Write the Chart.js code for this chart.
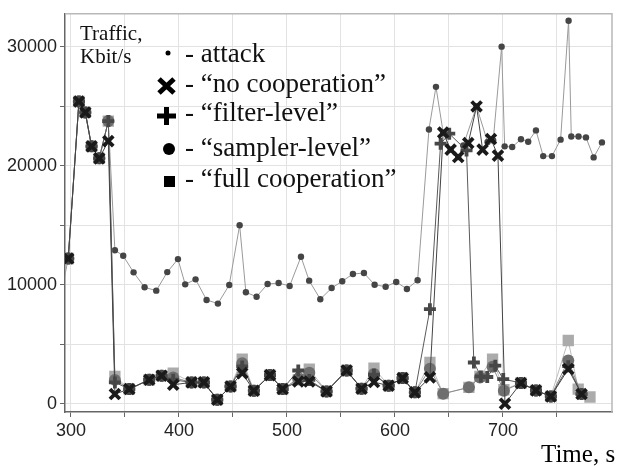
<!DOCTYPE html>
<html>
<head>
<meta charset="utf-8">
<script src="https://cdn.jsdelivr.net/npm/chart.js@4.4.0/dist/chart.umd.min.js"></script>
<style>
  html, body { margin: 0; padding: 0; background: #fff; }
</style>
</head>
<body>
<canvas id="trafficChart" width="630" height="466"></canvas>
<script>
// attack traffic (small dots)
const attackTime = [290, 297.5, 307.4, 313.3, 319.1, 326.2, 334.6, 340.7, 348.4, 358, 368.2, 379, 389.2, 399.1, 405.8, 415.4, 425.6, 436.1, 446.6, 456.2, 462, 471.9, 482.1, 492.3, 502.5, 513, 520.6, 530.9, 541.4, 551.2, 561.1, 571.3, 581.2, 591.4, 601.2, 611.1, 621, 631.5, 638, 644.7, 651.6, 658.6, 663.3, 675.6, 685.8, 691, 698.8, 701.6, 708.6, 716.7, 723.4, 730.6, 737.3, 745.4, 753.4, 760.8, 763.3, 770, 776.9, 784, 791.7];
const attackTraffic = [8800, 12200, 25400, 24480, 21630, 20620, 23750, 12900, 12430, 11040, 9780, 9500, 11060, 12150, 10030, 10450, 8720, 8410, 9980, 15000, 9360, 8990, 10060, 10140, 9890, 12350, 10340, 8780, 9720, 10290, 10900, 10980, 10000, 9830, 10230, 9640, 10370, 23050, 26630, 22780, 21350, 20730, 21710, 24980, 21990, 22130, 30010, 21630, 21570, 22230, 22020, 22970, 20810, 20810, 22190, 32190, 22460, 22460, 22380, 20700, 21960];

// "no cooperation" (x marks)
const noCoopTime = [297.5, 307.4, 313.3, 319.1, 326.2, 334.6, 340.7, 354, 372.5, 384, 394.7, 411.7, 423.1, 435.5, 447.8, 458.6, 469.4, 484.3, 496, 510.5, 520.7, 536.7, 555.3, 569.1, 580.6, 594.2, 607.1, 618.5, 632.4, 644.7, 651.6, 658.6, 667.9, 675.6, 681.2, 688.9, 695.4, 701.9, 716.7, 730.6, 744.4, 760.5, 772.8];
const noCoopTraffic = [12200, 25400, 24480, 21630, 20620, 22070, 810, 1230, 2010, 2350, 1590, 1790, 1790, 335, 1450, 2570, 1090, 2400, 1230, 1870, 1870, 1030, 2790, 1260, 1820, 1510, 2150, 950, 2210, 22780, 21350, 20730, 21900, 24980, 21350, 22240, 20850, 0, 1735, 1115, 610, 2910, 810];

// "filter-level" (plus marks)
const filterTime = [297.5, 307.4, 313.3, 319.1, 326.2, 334.6, 340.7, 354, 372.5, 384, 394.7, 411.7, 423.1, 435.5, 447.8, 458.6, 469.4, 484.3, 496, 510.5, 520.7, 536.7, 555.3, 569.1, 580.6, 594.2, 607.1, 618.5, 632.4, 642.3, 650.3, 666.3, 673.1, 679.6, 685.5, 692.9, 700.3, 716.7, 730.6, 744.4, 760.5, 772.8];
const filterTraffic = [12200, 25400, 24480, 21630, 20620, 23750, 1790, 1230, 2010, 2350, 2010, 1790, 1790, 335, 1450, 3130, 1090, 2400, 1230, 2790, 2000, 1030, 2790, 1260, 2430, 1510, 2150, 950, 7940, 21850, 22690, 21290, 3460, 2290, 2240, 3190, 2070, 1735, 1115, 610, 3150, 810];

// "sampler-level" (circles)
const samplerTime = [297.5, 307.4, 313.3, 319.1, 326.2, 334.6, 340.7, 354, 372.5, 384, 394.7, 411.7, 423.1, 435.5, 447.8, 458.6, 469.4, 484.3, 496, 510.5, 520.7, 536.7, 555.3, 569.1, 580.6, 594.2, 607.1, 618.5, 632.4, 644.7, 668.5, 678.7, 690.4, 700.9, 716.7, 730.6, 744.4, 760.5, 772.8];
const samplerTraffic = [12200, 25400, 24480, 21630, 20620, 23750, 2000, 1230, 2010, 2350, 2200, 1790, 1790, 335, 1450, 3400, 1090, 2400, 1230, 2100, 2600, 1030, 2790, 1260, 2500, 1510, 2150, 950, 2930, 840, 1370, 2200, 3100, 1090, 1735, 1115, 610, 3630, 810];

// "full cooperation" (squares)
const fullTime = [297.5, 307.4, 313.3, 319.1, 326.2, 334.6, 340.7, 354, 372.5, 384, 394.7, 411.7, 423.1, 435.5, 447.8, 458.6, 469.4, 484.3, 496, 510.5, 520.7, 536.7, 555.3, 569.1, 580.6, 594.2, 607.1, 618.5, 632.4, 644.7, 668.5, 678.7, 690.4, 700.9, 716.7, 730.6, 744.4, 760.5, 769.7, 780.6];
const fullTraffic = [12200, 25400, 24480, 21630, 20620, 23750, 2290, 1230, 2010, 2350, 2570, 1790, 1790, 335, 1450, 3745, 1090, 2400, 1230, 2000, 2900, 1030, 2790, 1260, 2990, 1510, 2150, 950, 3460, 840, 1370, 2300, 3750, 1170, 1735, 1115, 610, 5310, 1230, 560];

const xTicks = [300, 350, 400, 450, 500, 550, 600, 650, 700, 750];
const yTicks = [0, 5000, 10000, 15000, 20000, 25000, 30000];

const legendLabels = ['- attack', '- \u201cno cooperation\u201d', '- \u201cfilter-level\u201d', '- \u201csampler-level\u201d', '- \u201cfull cooperation\u201d'];

function toPoints(xs, ys) {
    return xs.map((x, i) => ({ x: x, y: ys[i] }));
}

const tickFont = { family: "'Liberation Sans Narrow', 'Arial Narrow', 'Liberation Sans', sans-serif", size: 18 };
const serif = "'Liberation Serif', 'Times New Roman', serif";

// light frame on top and right side
const framePlugin = {
    id: 'frame',
    beforeDatasetsDraw(chart) {
        const { ctx, chartArea: a } = chart;
        ctx.save();
        ctx.strokeStyle = '#b8b8b8';
        ctx.lineWidth = 1.5;
        ctx.beginPath();
        ctx.moveTo(a.left, a.top);
        ctx.lineTo(a.right, a.top);
        ctx.lineTo(a.right, a.bottom);
        ctx.stroke();
        ctx.restore();
    }
};

// text legend inside the plot + axis captions
const notesPlugin = {
    id: 'notes',
    afterDraw(chart) {
        const ctx = chart.ctx;
        ctx.save();
        ctx.fillStyle = '#111';
        ctx.textBaseline = 'alphabetic';
        ctx.font = '21px ' + serif;
        ctx.fillText('Traffic,', 80, 40);
        ctx.fillText('Kbit/s', 80, 63);

        ctx.font = '27px ' + serif;
        const rows = [62, 92, 121, 156, 187];
        legendLabels.forEach((label, i) => {
            ctx.fillText(label, 185, rows[i]);
        });

        // symbols
        ctx.fillStyle = '#000';
        ctx.strokeStyle = '#000';
        ctx.beginPath();
        ctx.arc(168, 53, 2.5, 0, Math.PI * 2);
        ctx.fill();

        ctx.lineWidth = 5;
        ctx.beginPath();
        ctx.moveTo(159, 79); ctx.lineTo(174, 93);
        ctx.moveTo(174, 79); ctx.lineTo(159, 93);
        ctx.stroke();

        ctx.beginPath();
        ctx.moveTo(157, 116); ctx.lineTo(176, 116);
        ctx.moveTo(166.5, 107); ctx.lineTo(166.5, 125);
        ctx.stroke();

        ctx.beginPath();
        ctx.arc(169, 149, 6, 0, Math.PI * 2);
        ctx.fill();

        ctx.fillRect(164, 176, 11, 11);

        ctx.font = '25px ' + serif;
        ctx.fillText('Time, s', 541, 462);
        ctx.restore();
    }
};

const ctx = document.getElementById('trafficChart').getContext('2d');

new Chart(ctx, {
    type: 'line',
    data: {
        datasets: [
            {
                label: 'no cooperation',
                data: toPoints(noCoopTime, noCoopTraffic),
                borderColor: '#444',
                borderWidth: 1,
                pointStyle: 'crossRot',
                pointRadius: 7,
                pointBorderWidth: 3.8,
                pointBorderColor: '#1a1a1a',
                pointBackgroundColor: '#1a1a1a',
            },
            {
                label: 'filter-level',
                data: toPoints(filterTime, filterTraffic),
                borderColor: '#5a5a5a',
                borderWidth: 1,
                pointStyle: 'cross',
                pointRadius: 6,
                pointBorderWidth: 3.8,
                pointBorderColor: '#474747',
                pointBackgroundColor: '#474747',
            },
            {
                label: 'sampler-level',
                data: toPoints(samplerTime, samplerTraffic),
                borderColor: '#8a8a8a',
                borderWidth: 1,
                pointStyle: 'circle',
                pointRadius: 6,
                pointBorderWidth: 0,
                pointBackgroundColor: '#6e6e6e',
            },
            {
                label: 'full cooperation',
                data: toPoints(fullTime, fullTraffic),
                borderColor: '#bdbdbd',
                borderWidth: 1,
                pointStyle: 'rect',
                pointRadius: 8,
                pointBorderWidth: 0,
                pointBackgroundColor: '#ababab',
            },
            {
                label: 'attack',
                data: toPoints(attackTime, attackTraffic),
                borderColor: '#9a9a9a',
                borderWidth: 1,
                pointStyle: 'circle',
                pointRadius: 3.2,
                pointBorderWidth: 0,
                pointBackgroundColor: '#454545',
            },
        ],
    },
    options: {
        responsive: false,
        animation: false,
        layout: { padding: { top: 13, right: 18, left: 0, bottom: 0 } },
        plugins: {
            legend: { display: false },
            tooltip: { enabled: false },
        },
        elements: { line: { tension: 0 } },
        scales: {
            x: {
                type: 'linear',
                min: 294.5,
                max: 801,
                afterBuildTicks: scale => { scale.ticks = xTicks.map(v => ({ value: v })); },
                afterFit: scale => { scale.height = 54; },
                ticks: {
                    autoSkip: false,
                    maxRotation: 0,
                    padding: 3,
                    color: '#222',
                    font: tickFont,
                    callback: v => (v % 100 === 0 ? String(v) : ''),
                },
                grid: { color: '#e2e2e2', tickColor: '#666', tickLength: 5, lineWidth: 1 },
                border: { color: '#666', width: 1.5 },
            },
            y: {
                type: 'linear',
                min: -700,
                max: 32770,
                afterBuildTicks: scale => { scale.ticks = yTicks.map(v => ({ value: v })); },
                afterFit: scale => { scale.width = 65; },
                ticks: {
                    padding: 3,
                    color: '#222',
                    font: tickFont,
                    callback: v => (v % 10000 === 0 ? String(v) : ''),
                },
                grid: { color: '#e2e2e2', tickColor: '#666', tickLength: 5, lineWidth: 1 },
                border: { color: '#666', width: 1.5 },
            },
        },
    },
    plugins: [framePlugin, notesPlugin],
});
</script>
</body>
</html>
